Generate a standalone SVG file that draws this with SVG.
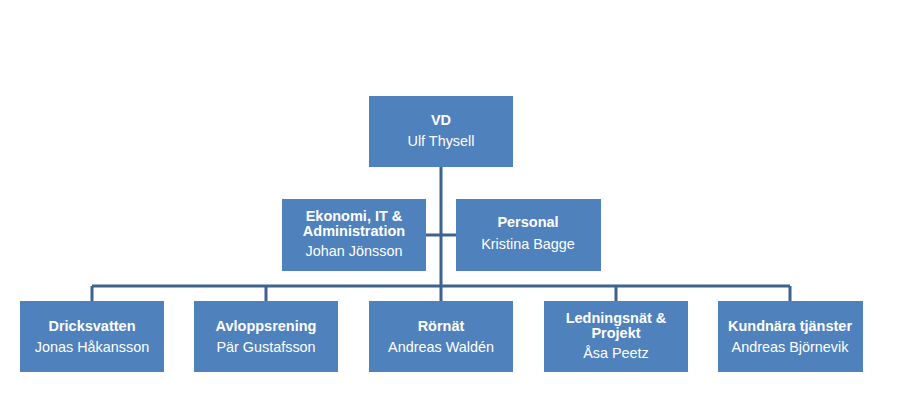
<svg xmlns="http://www.w3.org/2000/svg" width="901" height="418" viewBox="0 0 901 418">
<style>
.box{fill:#4F81BD;}
.t{font-family:"Liberation Sans",Arial,sans-serif;fill:#fff;text-anchor:middle;}
.b{font-weight:bold;font-size:14.5px;}
.r{font-size:14.4px;}
.c{stroke:#3F6391;stroke-width:3;fill:none;}
</style>
<rect width="901" height="418" fill="#fff"/>
<g id="connectors">
<path class="c" d="M441,167 V286 M426,235 H456 M92,286 H790 M92,286 V301 M266,286 V301 M441,286 V301 M616,286 V301 M790,286 V301"/>
</g>
<g id="vd">
<rect class="box" x="369" y="96" width="144" height="71"/>
<text class="t b" x="441" y="125">VD</text>
<text class="t r" x="441" y="146">Ulf Thysell</text>
</g>
<g id="ekonomi">
<rect class="box" x="282" y="199" width="144" height="72"/>
<text class="t b" x="354" y="221">Ekonomi, IT &amp;<tspan x="354" dy="14.5">Administration</tspan></text>
<text class="t r" x="354" y="256">Johan Jönsson</text>
</g>
<g id="personal">
<rect class="box" x="456" y="199" width="145" height="72"/>
<text class="t b" x="528" y="227">Personal</text>
<text class="t r" x="528" y="249">Kristina Bagge</text>
</g>
<g id="dricksvatten">
<rect class="box" x="20" y="301" width="144" height="71"/>
<text class="t b" x="92" y="331">Dricksvatten</text>
<text class="t r" x="92" y="352">Jonas Håkansson</text>
</g>
<g id="avloppsrening">
<rect class="box" x="194" y="301" width="144" height="71"/>
<text class="t b" x="266" y="331">Avloppsrening</text>
<text class="t r" x="266" y="352">Pär Gustafsson</text>
</g>
<g id="rornat">
<rect class="box" x="369" y="301" width="144" height="71"/>
<text class="t b" x="441" y="331">Rörnät</text>
<text class="t r" x="441" y="352">Andreas Waldén</text>
</g>
<g id="ledningsnat">
<rect class="box" x="544" y="301" width="144" height="71"/>
<text class="t b" x="616" y="323">Ledningsnät &amp;<tspan x="616" dy="14.5">Projekt</tspan></text>
<text class="t r" x="616" y="358">Åsa Peetz</text>
</g>
<g id="kundnara">
<rect class="box" x="718" y="301" width="145" height="71"/>
<text class="t b" x="790" y="331">Kundnära tjänster</text>
<text class="t r" x="790" y="352">Andreas Björnevik</text>
</g>
</svg>
